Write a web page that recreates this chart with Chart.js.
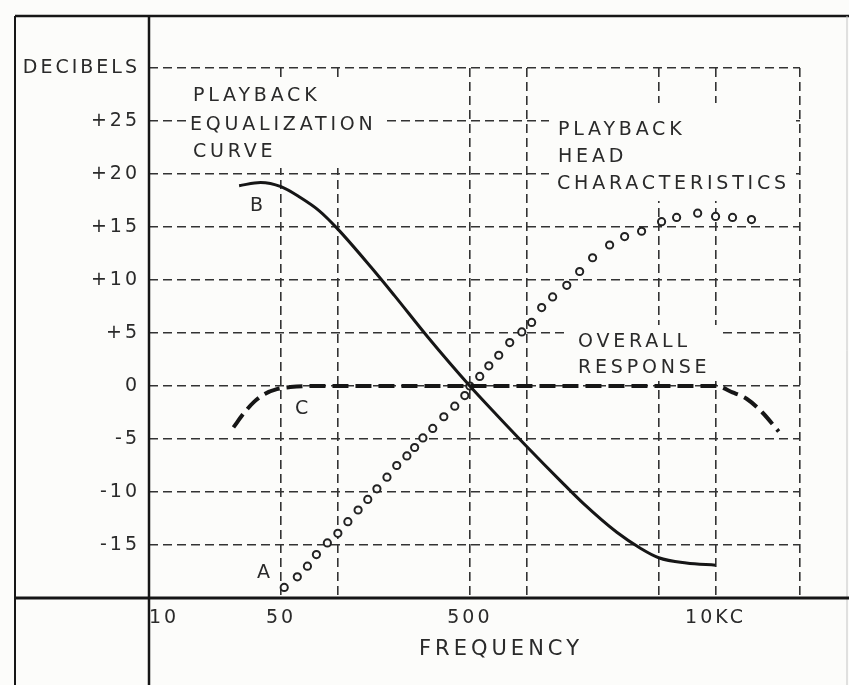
<!DOCTYPE html>
<html>
<head>
<meta charset="utf-8">
<script src="https://cdn.jsdelivr.net/npm/chart.js@4"></script>
<style>
html,body{margin:0;padding:0;background:#fcfcfa;}
#wrap{width:849px;height:685px;position:relative;}
</style>
</head>
<body>
<div id="wrap"><canvas id="c"></canvas></div>
<script>
// ---------- DATA ----------
const xTickValues = [10, 50, 100, 500, 1000, 5000, 10000, 28000];
const xTickLabels = ['10', '50', '', '500', '', '', '10KC', ''];
const yTickValues = [-20, -15, -10, -5, 0, 5, 10, 15, 20, 25, 30];
const yTickLabels = ['', '-15', '-10', '-5', '0', '+5', '+10', '+15', '+20', '+25', 'DECIBELS'];
const xAxisTitle = 'FREQUENCY';

// B: playback equalization curve (solid)
const eqFreq = [30, 39, 50, 63, 80, 100, 150, 200, 300, 500, 700, 1000, 1500, 2000, 3000, 4000, 5000, 7000, 10000];
const eqDb   = [18.9, 19.2, 18.8, 17.8, 16.5, 14.8, 11.2, 8.5, 4.6, 0, -2.8, -5.7, -8.9, -11.1, -13.8, -15.3, -16.2, -16.7, -16.9];

// A: playback head characteristics (circles)
const headFreq = [52, 61, 69, 77, 88, 100, 113, 128, 144, 161, 182, 205, 232, 255, 282, 318, 364, 416, 470, 500,
                  564, 630, 711, 813, 942, 1062, 1200, 1372, 1630, 1907, 2233, 2748, 3300, 4058, 5178, 6220, 8040, 10000, 12300, 15500];
const headDb   = [-19.0, -18.0, -17.0, -15.9, -14.8, -13.9, -12.8, -11.7, -10.7, -9.7, -8.6, -7.5, -6.6, -5.8, -4.9, -4.0, -2.9, -1.9, -0.9, 0,
                  0.9, 1.9, 2.9, 4.1, 5.1, 6.0, 7.4, 8.4, 9.5, 10.8, 12.1, 13.3, 14.1, 14.6, 15.5, 15.9, 16.3, 16.0, 15.9, 15.7];

// C: overall response (dashed)
const overallFreq = [28, 32, 36, 41, 47.5, 56, 70, 10000, 12300, 14600, 17700, 21600];
const overallDb   = [-3.9, -2.5, -1.5, -0.75, -0.3, -0.1, 0, 0, -0.6, -1.2, -2.5, -4.3];

// annotation texts
const noteTexts = ['PLAYBACK', 'EQUALIZATION', 'CURVE', 'PLAYBACK', 'HEAD', 'CHARACTERISTICS', 'OVERALL', 'RESPONSE', 'B', 'C', 'A'];

// ---------- STYLE / LAYOUT ----------
const FONT = '"DejaVu Sans", "Liberation Sans", sans-serif';
const INK = '#2a2a2a';
const LINE = '#161616';
const GRID = '#333333';
const PAPER = '#fcfcfa';
const notePos = [[193,96],[190,125],[193,152],[558,130],[558,157],[557,184],[578,342],[578,368],[250,206],[295,409],[257,573]];
const masks = [[187,80,199,88],[549,103,247,98],[566,325,154,56]];

const toXY = (xs, ys) => xs.map((x, i) => ({x: x, y: ys[i]}));

const paperPlugin = {
  id: 'paper',
  beforeUpdate(chart) { chart.ctx.letterSpacing = '3px'; },
  beforeDraw(chart) {
    const ctx = chart.ctx;
    ctx.save();
    ctx.fillStyle = PAPER;
    ctx.fillRect(0, 0, chart.width, chart.height);
    ctx.restore();
    ctx.letterSpacing = '3px';
  },
  beforeDatasetsDraw(chart) {
    const ctx = chart.ctx;
    ctx.save();
    ctx.fillStyle = PAPER;
    masks.forEach(m => ctx.fillRect(m[0], m[1], m[2], m[3]));
    ctx.fillStyle = INK;
    ctx.font = '19px ' + FONT;
    ctx.letterSpacing = '3.8px';
    ctx.textAlign = 'left';
    ctx.textBaseline = 'middle';
    noteTexts.forEach((t, i) => ctx.fillText(t, notePos[i][0], notePos[i][1]));
    ctx.restore();
  },
  afterDraw(chart) {
    const ctx = chart.ctx;
    ctx.save();
    ctx.lineCap = 'butt';
    const seg = (x1, y1, x2, y2, w, c) => {
      ctx.beginPath(); ctx.lineWidth = w; ctx.strokeStyle = c || LINE;
      ctx.moveTo(x1, y1); ctx.lineTo(x2, y2); ctx.stroke();
    };
    const a = chart.chartArea;
    seg(15, 16, 849, 16, 2.5);
    seg(15, 16, 15, 685, 2);
    seg(847, 16, 847, 685, 1, '#c4c4c4');
    seg(a.left, 16, a.left, 685, 2.5);
    seg(15, a.bottom, 849, a.bottom, 3);
    // axis title
    ctx.fillStyle = INK;
    ctx.font = '21px ' + FONT;
    ctx.letterSpacing = '4px';
    ctx.textAlign = 'center';
    ctx.textBaseline = 'middle';
    ctx.fillText(xAxisTitle, 501, 650);
    ctx.restore();
  }
};

new Chart(document.getElementById('c'), {
  type: 'line',
  data: {
    datasets: [
      {
        label: 'Playback equalization curve',
        data: toXY(eqFreq, eqDb),
        borderColor: LINE, borderWidth: 3, pointRadius: 0,
        cubicInterpolationMode: 'monotone', fill: false
      },
      {
        label: 'Overall response',
        data: toXY(overallFreq, overallDb),
        borderColor: LINE, borderWidth: 4, borderDash: [16, 7], pointRadius: 0,
        cubicInterpolationMode: 'monotone', fill: false
      },
      {
        label: 'Playback head characteristics',
        data: toXY(headFreq, headDb),
        showLine: false, pointStyle: 'circle', pointRadius: 3.6, pointBorderWidth: 2,
        pointBackgroundColor: PAPER, pointBorderColor: '#222222'
      }
    ]
  },
  options: {
    responsive: true,
    maintainAspectRatio: false,
    animation: false,
    devicePixelRatio: 1,
    layout: { padding: { top: 68, right: 49, left: 0, bottom: 0 } },
    plugins: { legend: { display: false }, tooltip: { enabled: false } },
    scales: {
      x: {
        type: 'logarithmic', min: 10, max: 28000,
        afterBuildTicks: s => { s.ticks = xTickValues.map(v => ({ value: v })); },
        afterFit: s => { s.height = 87; },
        ticks: {
          autoSkip: false, maxRotation: 0, align: 'inner', padding: 9,
          color: INK, font: { family: FONT, size: 19 },
          callback: (v, i) => xTickLabels[i]
        },
        grid: {
          drawTicks: false, lineWidth: 1.6,
          color: c => (c.tick && c.tick.value === xTickValues[0]) ? 'rgba(0,0,0,0)' : GRID
        },
        border: { display: false, dash: [9, 5] }
      },
      y: {
        type: 'linear', min: -20, max: 30,
        afterBuildTicks: s => { s.ticks = yTickValues.map(v => ({ value: v })); },
        afterFit: s => { s.width = 149; },
        ticks: {
          padding: 9, color: INK, font: { family: FONT, size: 19 },
          callback: (v, i) => yTickLabels[i]
        },
        grid: {
          drawTicks: false, lineWidth: 1.6,
          color: c => (c.tick && c.tick.value === yTickValues[0]) ? 'rgba(0,0,0,0)' : GRID
        },
        border: { display: false, dash: [9, 5] }
      }
    }
  },
  plugins: [paperPlugin]
});
</script>
</body>
</html>
